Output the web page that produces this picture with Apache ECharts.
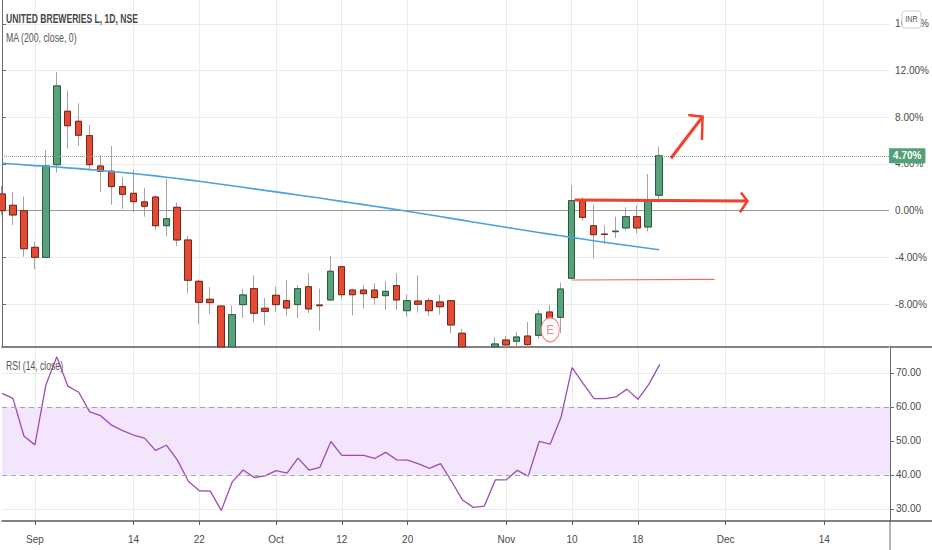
<!DOCTYPE html>
<html>
<head>
<meta charset="utf-8">
<script src="https://cdn.jsdelivr.net/npm/echarts@6/dist/echarts.min.js"></script>
<style>
html,body{margin:0;padding:0;background:#fff;}
#chart{width:932px;height:550px;}
</style>
</head>
<body>
<div id="chart"></div>
<script>
// ---- data ----
const dates = [
 '2020-08-27','2020-08-28','2020-08-31',
 '2020-09-01','2020-09-02','2020-09-03','2020-09-04','2020-09-07','2020-09-08','2020-09-09','2020-09-10','2020-09-11',
 '2020-09-14','2020-09-15','2020-09-16','2020-09-17','2020-09-18','2020-09-21','2020-09-22','2020-09-23','2020-09-24',
 '2020-09-25','2020-09-28','2020-09-29','2020-09-30',
 '2020-10-01','2020-10-05','2020-10-06','2020-10-07','2020-10-08','2020-10-09','2020-10-12','2020-10-13','2020-10-14',
 '2020-10-15','2020-10-16','2020-10-19','2020-10-20','2020-10-21','2020-10-22','2020-10-23','2020-10-26','2020-10-27',
 '2020-10-28','2020-10-29','2020-10-30',
 '2020-11-02','2020-11-03','2020-11-04','2020-11-05','2020-11-06','2020-11-09','2020-11-10','2020-11-11','2020-11-12',
 '2020-11-13','2020-11-14','2020-11-17','2020-11-18','2020-11-19','2020-11-20','2020-11-23','2020-11-24','2020-11-25',
 '2020-11-26','2020-11-27',
 '2020-12-01','2020-12-02','2020-12-03','2020-12-04','2020-12-07','2020-12-08','2020-12-09','2020-12-10','2020-12-11',
 '2020-12-14','2020-12-15','2020-12-16','2020-12-17','2020-12-18','2020-12-21','2020-12-22'
];
const tickLabels = {
 '2020-09-01':'Sep','2020-09-14':'14','2020-09-22':'22','2020-10-01':'Oct','2020-10-12':'12','2020-10-20':'20',
 '2020-11-02':'Nov','2020-11-10':'10','2020-11-18':'18','2020-12-01':'Dec','2020-12-14':'14'
};
const opens  = [1.43,0.46,0.0,-3.14,-4.0,3.94,8.52,7.66,6.43,3.83,3.38,2.06,1.49,0.75,1.17,-1.29,0.29,-2.51,-6.05,-7.59,
 -8.17,-12.9,-8.05,-6.68,-8.36,-7.25,-7.71,-8.05,-6.51,-8.08,-7.65,-4.8,-6.8,-6.8,-6.8,-7.28,-6.42,-8.57,-7.74,-7.71,
 -7.82,-7.71,-10.5,-12.2,-12.9,-11.9,-11.08,-11.19,-10.74,-10.68,-8.68,-9.14,-5.79,0.86,-1.29,-2.0,-1.8,-1.48,-0.51,-1.4,1.32];
const closes = [0.0,-0.37,-3.26,-4.0,3.83,10.69,7.28,6.46,3.94,3.38,2.06,1.4,0.77,0.38,-1.29,-0.69,-2.51,-5.96,-7.85,-7.88,
 -12.6,-8.91,-7.22,-8.79,-8.62,-8.05,-8.34,-6.68,-8.42,-8.14,-5.19,-7.2,-7.2,-7.11,-7.45,-6.91,-7.65,-7.71,-8.02,-8.57,
 -8.23,-9.79,-12.2,-12.9,-12.5,-11.42,-11.5,-10.82,-11.48,-8.85,-9.25,-6.71,0.86,-0.57,-2.06,-2.04,-1.75,-0.51,-1.48,0.8,4.70];
const lows   = [-0.37,-1.23,-3.94,-5.02,-4.0,3.26,5.31,5.54,3.49,1.6,0.51,0.17,-0.11,-0.51,-1.65,-2.23,-3.02,-7.08,-9.71,-8.88,
 -13.2,-13.4,-9.19,-9.56,-9.82,-8.68,-9.02,-9.19,-8.79,-10.28,-7.65,-7.59,-8.96,-8.4,-8.05,-8.51,-8.51,-9.08,-8.74,-9.0,
 -8.91,-10.5,-12.6,-13.4,-13.5,-12.2,-12.0,-11.65,-11.8,-10.97,-9.54,-10.5,-5.79,-0.86,-4.11,-2.85,-2.34,-1.71,-1.94,-1.77,0.69];
const highs  = [2.13,1.6,1.2,-2.68,5.2,11.89,10.28,9.2,7.32,4.75,5.54,2.86,3.49,1.95,1.32,2.74,0.69,-2.17,-5.94,-6.56,
 -8.17,-8.11,-6.68,-5.54,-7.48,-6.51,-5.94,-6.39,-5.36,-6.68,-3.88,-4.74,-6.68,-6.39,-6.22,-6.05,-5.36,-7.2,-5.54,-7.48,
 -7.2,-7.65,-10.16,-11.9,-12.1,-10.85,-10.74,-10.39,-9.54,-8.51,-8.05,-6.17,2.18,1.15,0.51,-1.25,-0.51,0.29,0.46,3.14,5.48];
const ma200  = [4.06,4.0,3.93,3.86,3.8,3.74,3.67,3.6,3.52,3.44,3.36,3.27,3.18,3.08,2.98,2.87,2.76,2.64,2.52,2.39,
 2.26,2.13,2.0,1.87,1.74,1.61,1.48,1.35,1.22,1.08,0.94,0.8,0.66,0.52,0.38,0.24,0.1,-0.05,-0.2,-0.35,
 -0.5,-0.66,-0.81,-0.97,-1.12,-1.27,-1.42,-1.57,-1.72,-1.87,-2.01,-2.15,-2.29,-2.43,-2.57,-2.7,-2.83,-2.96,-3.09,-3.22,-3.35];
const rsi14  = [63.96,62.5,51.4,48.8,66.4,74.7,66.1,64.3,58.5,57.4,54.6,53.0,51.7,50.8,47.2,48.7,44.3,38.1,35.3,35.2,
 29.5,37.9,41.4,39.2,39.7,41.2,40.5,44.9,41.4,42.2,49.8,45.7,45.7,45.7,44.8,46.6,44.4,44.3,43.2,41.9,
 43.3,38.1,32.6,30.4,30.8,38.5,38.5,41.3,39.6,49.8,49.0,57.0,71.5,66.9,62.4,62.4,62.9,65.2,62.2,66.6,72.5];
const pctTicks = [-8,-4,0,4,8,12,16];
const rsiTicks = [30,40,50,60,70];
const lastPct = 4.70;
// user drawings, in [bar index, percent] units
const arrowRight = [[52.27,0.92],[68.07,0.83]];
const arrowRightHead = [[67.47,1.55],[68.07,0.83],[67.38,-0.14]];
const arrowUp = [[61.08,4.49],[63.97,8.05]];
const arrowUpHead = [[62.66,8.20],[63.97,8.05],[63.91,6.06]];
const supportLine = [[52.06,-5.94],[65.06,-5.88]];
const earnings = [[50.06,-10.2]];

// ---- build ----
const PCT_MIN = -11.68, PCT_MAX = 18.05;
// the pane crops candles at its lower edge (as the reference does)
const clampLow = v => Math.max(v, PCT_MIN);
const ohlc = opens.map((o,i)=>{
  if (highs[i] < PCT_MIN) return ['-','-','-','-'];
  return [clampLow(o), clampLow(closes[i]), clampLow(lows[i]), clampLow(highs[i])];
});
const bodies = opens.map((o,i)=>{
  if (highs[i] < PCT_MIN) return ['-','-','-','-'];
  const c = closes[i];
  return [clampLow(o), clampLow(c), clampLow(Math.min(o,c)), clampLow(Math.max(o,c))];
});
const showTick = (i, v) => tickLabels[v] !== undefined;
const FONT = "'Liberation Sans Narrow','Liberation Sans',Arial,sans-serif";
const axisCol = '#6a6a6a';
const gridCol = '#ececec';
const redDraw = '#f0412e';

const chart = echarts.init(document.getElementById('chart'), null, {renderer:'svg'});
const option = {
  animation:false,
  backgroundColor:'#ffffff',
  grid:[
    {left:2, right:42, top:0, height:347},
    {left:2, right:42, top:347, height:174}
  ],
  xAxis:[
    {type:'category', gridIndex:0, data:dates, boundaryGap:false,
     axisLine:{show:true, onZero:false, lineStyle:{color:'#5a5a5a', width:1.5}},
     axisTick:{show:false}, axisLabel:{show:false},
     splitLine:{show:true, interval:showTick, lineStyle:{color:gridCol, width:1}}},
    {type:'category', gridIndex:1, data:dates, boundaryGap:false,
     axisLine:{show:true, onZero:false, lineStyle:{color:'#5a5a5a', width:1.5}},
     axisTick:{show:true, interval:showTick, length:4, lineStyle:{color:'#5a5a5a'}},
     axisLabel:{interval:showTick, formatter:v=>tickLabels[v]||'', color:'#4a4a4a', fontSize:10, fontFamily:FONT, margin:13},
     splitLine:{show:true, interval:showTick, lineStyle:{color:gridCol, width:1}}},
    {type:'value', gridIndex:0, min:0, max:81, show:false}
  ],
  yAxis:[
    {type:'value', gridIndex:0, position:'right', min:PCT_MIN, max:PCT_MAX,
     axisLine:{show:true, lineStyle:{color:axisCol, width:1}},
     axisTick:{show:true, customValues:pctTicks, length:4, lineStyle:{color:axisCol}},
     axisLabel:{customValues:pctTicks, formatter:v=>v.toFixed(2)+'%', color:'#4a4a4a', fontSize:10, fontFamily:FONT, margin:6},
     splitLine:{show:true, lineStyle:{color:gridCol, width:1}}},
    {type:'value', gridIndex:1, position:'right', min:26.4, max:77.6,
     axisLine:{show:true, lineStyle:{color:axisCol, width:1}},
     axisTick:{show:true, customValues:rsiTicks, length:4, lineStyle:{color:axisCol}},
     axisLabel:{customValues:rsiTicks, formatter:v=>v.toFixed(2), color:'#4a4a4a', fontSize:10, fontFamily:FONT, margin:6},
     splitLine:{show:true, lineStyle:{color:gridCol, width:1}}}
  ],
  series:[
    {name:'wick', type:'candlestick', xAxisIndex:0, yAxisIndex:0, data:ohlc, barWidth:7, z:2, clip:true,
     itemStyle:{color:'#a3a3a3', color0:'#a3a3a3', borderColor:'#a3a3a3', borderColor0:'#a3a3a3', borderWidth:1},
     markLine:{silent:true, symbol:'none', z:1, label:{show:false},
       data:[{yAxis:0}], lineStyle:{color:'#9a9a9a', width:1, type:'solid'}}},
    {name:'body', type:'candlestick', xAxisIndex:0, yAxisIndex:0, data:bodies, barWidth:7, z:3, clip:true,
     itemStyle:{color:'#58a27b', color0:'#e24c35', borderColor:'#2a5a3e', borderColor0:'#7e2215', borderWidth:1}},
    {name:'MA', type:'line', xAxisIndex:0, yAxisIndex:0, data:ma200, showSymbol:false, z:4,
     lineStyle:{color:'#4aa1e0', width:1.6},
     markLine:{silent:true, symbol:'none',
       data:[{yAxis:lastPct}],
       lineStyle:{color:'#7f9f8e', width:1, type:'dotted'},
       label:{show:true, position:'end', distance:0, formatter:lastPct.toFixed(2)+'%', color:'#ffffff',
              backgroundColor:'#51a079', padding:[3,4,2,4], fontSize:10, fontFamily:FONT, fontWeight:'bold'}}},
    {name:'drawings', type:'lines', coordinateSystem:'cartesian2d', xAxisIndex:2, yAxisIndex:0, polyline:true, z:10,
     silent:true,
     data:[
       {coords:arrowRight, lineStyle:{color:redDraw, width:3}},
       {coords:arrowRightHead, lineStyle:{color:redDraw, width:2.5}},
       {coords:arrowUp, lineStyle:{color:redDraw, width:3}},
       {coords:arrowUpHead, lineStyle:{color:redDraw, width:2.5}},
       {coords:supportLine, lineStyle:{color:'#f06a66', width:1.2}}
     ],
     lineStyle:{opacity:1, curveness:0}},
    {name:'earnings', type:'scatter', xAxisIndex:2, yAxisIndex:0, data:earnings, z:11,
     symbol:'circle', symbolSize:[18,24],
     itemStyle:{color:'#ffffff', borderColor:'#f17880', borderWidth:1.3},
     label:{show:true, position:'inside', formatter:'E', color:'#ee6b74', fontSize:12, fontFamily:FONT}},
    {name:'RSI', type:'line', xAxisIndex:1, yAxisIndex:1, data:rsi14, showSymbol:false, z:4,
     lineStyle:{color:'#9c4db5', width:1.3},
     markArea:{silent:true, itemStyle:{color:'#f3e6fc'}, data:[[{yAxis:40},{yAxis:60}]]},
     markLine:{silent:true, symbol:'none', label:{show:false},
       data:[{yAxis:40},{yAxis:60}], lineStyle:{color:'#a5a5a5', width:1, type:[5,4]}}}
  ],
  graphic:[
    {type:'text', x:6, y:18, scaleX:0.66, z:100,
     style:{text:'UNITED BREWERIES L, 1D, NSE', fontSize:13, fontWeight:'bold', fontFamily:"'Liberation Sans',Arial,sans-serif", fill:'#474747', textVerticalAlign:'middle'}},
    {type:'text', x:6, y:37, scaleX:0.73, z:100,
     style:{text:'MA (200, close, 0)', fontSize:12, fontFamily:"'Liberation Sans',Arial,sans-serif", fill:'#555555', textVerticalAlign:'middle'}},
    {type:'text', x:6, y:366, scaleX:0.72, z:100,
     style:{text:'RSI (14, close)', fontSize:12, fontFamily:"'Liberation Sans',Arial,sans-serif", fill:'#555555', textVerticalAlign:'middle'}},
    {type:'rect', x:902, y:11, z:100, shape:{width:19, height:17, r:3}, style:{fill:'#ffffff', stroke:'#cfcfcf', lineWidth:1}},
    {type:'text', x:911.5, y:19.5, z:101, scaleX:0.8,
     style:{text:'INR', fontSize:9, fontFamily:"'Liberation Sans',Arial,sans-serif", fill:'#555555', textAlign:'center', textVerticalAlign:'middle'}},
    {type:'line', z:50, shape:{x1:890, y1:347, x2:932, y2:347}, style:{stroke:'#5a5a5a', lineWidth:1.5}},
    {type:'line', z:50, shape:{x1:890, y1:521, x2:932, y2:521}, style:{stroke:'#5a5a5a', lineWidth:1.5}},
    {type:'line', z:50, shape:{x1:890, y1:521, x2:890, y2:550}, style:{stroke:axisCol, lineWidth:1}}
  ]
};
chart.setOption(option);
</script>
</body>
</html>
